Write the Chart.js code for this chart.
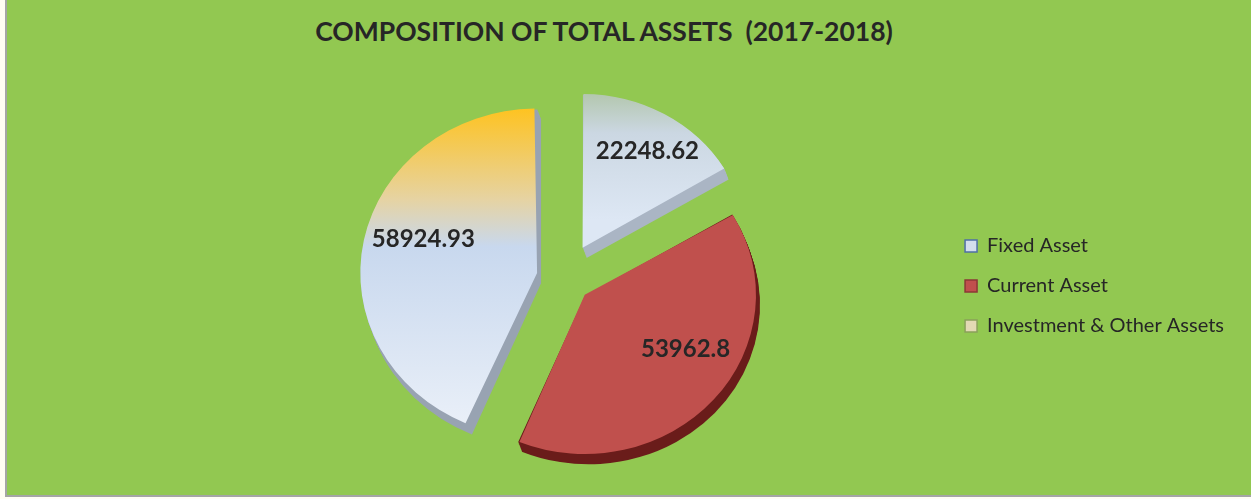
<!DOCTYPE html>
<html>
<head>
<meta charset="utf-8">
<script src="https://cdn.jsdelivr.net/npm/chart.js@4.4.1/dist/chart.umd.min.js"></script>
<style>
  html, body { margin: 0; padding: 0; background: #fffdf4; overflow: hidden; }
  #frame {
    position: absolute; left: 5px; top: -2px; width: 1250px; height: 497px;
    background: #92c851; border-left: 2px solid #a5a5a5; border-bottom: 2px solid #a5a5a5;
  }
  #title {
    position: absolute; left: 0; top: 15px; width: 1208px; text-align: center;
    font: bold 26.5px/32px Lato, sans-serif; color: #262626; white-space: pre;
  }
  #wrap { position: absolute; left: 0; top: 0; width: 1251px; height: 499px; }
</style>
</head>
<body>
<div id="frame"></div>
<div id="title"></div>
<div id="wrap"><canvas id="assetChart"></canvas></div>
<script>
const chartTitle = 'COMPOSITION OF TOTAL ASSETS  (2017-2018)';
const categories = ['Fixed Asset', 'Current Asset', 'Investment & Other Assets'];
const assetValues = [22248.62, 53962.8, 58924.93];

// flat colours for legend swatches and the 3D side walls
const legendFills = ['#d3deec', '#c0504d', '#e3d9b4'];
const legendBorders = ['#4f6fa6', '#8c3836', '#8aa05a'];
const sideColors = ['#aab5c4', '#6a1c1a', '#98a3b2'];

document.getElementById('title').textContent = chartTitle;

// geometry of an arc as Chart.js actually draws it (offset is applied /4)
function arcGeom(arc) {
    const {x, y, startAngle, endAngle, outerRadius} = arc.getProps(['x', 'y', 'startAngle', 'endAngle', 'outerRadius']);
    const off = (arc.options.offset || 0) / 4;
    const mid = (startAngle + endAngle) / 2;
    const fix = 1 - Math.sin(Math.min(Math.PI, endAngle - startAngle));
    return {
        x, y,
        cx: x + Math.cos(mid) * off,
        cy: y + Math.sin(mid) * off,
        r: outerRadius + off * fix,
        startAngle, endAngle, mid
    };
}

// tilts the pie a little and draws the side walls under each slice
const pieDepth = {
    id: 'pieDepth',
    beforeDatasetsDraw(chart, args, opts) {
        const c = chart.ctx;
        const {left, right, top, bottom} = chart.chartArea;
        const mx = (left + right) / 2, my = (top + bottom) / 2;
        c.save();
        c.translate(mx, my);
        c.scale(1, opts.tilt);
        c.translate(-mx, -my);
        chart.getDatasetMeta(0).data.forEach((arc, i) => {
            const p = arcGeom(arc);
            c.fillStyle = opts.colors[i];
            for (let k = 1; k <= opts.depth; k++) {
                const ox = p.cx + opts.dx * k / opts.depth;
                const oy = p.cy + opts.dy * k / opts.depth;
                c.beginPath();
                c.moveTo(ox, oy);
                c.arc(ox, oy, p.r, p.startAngle, p.endAngle);
                c.closePath();
                c.fill();
            }
        });
    },
    afterDatasetsDraw(chart) {
        chart.ctx.restore();
    }
};

const sliceLabels = {
    id: 'sliceLabels',
    afterDatasetsDraw(chart, args, opts) {
        const c = chart.ctx;
        const tilt = chart.options.plugins.pieDepth.tilt;
        c.save();
        c.font = opts.font;
        c.fillStyle = opts.color;
        c.textAlign = 'center';
        c.textBaseline = 'middle';
        chart.getDatasetMeta(0).data.forEach((arc, i) => {
            const p = arcGeom(arc);
            const d = p.r * opts.ratio;
            const [nx, ny] = opts.nudge[i];
            const lx = p.cx + Math.cos(p.mid) * d;
            const ly = p.y + (p.cy + Math.sin(p.mid) * d - p.y) * tilt;
            c.fillText(String(assetValues[i]), lx + nx, ly + ny);
        });
        c.restore();
    }
};

function sliceFill(context) {
    const i = context.dataIndex;
    const {ctx, chartArea} = context.chart;
    if (!chartArea) return legendFills[i];
    const cy = (chartArea.top + chartArea.bottom) / 2;
    let g;
    if (i === 0) {
        g = ctx.createLinearGradient(0, cy - 200, 0, cy - 30);
        g.addColorStop(0, '#a0ba84');
        g.addColorStop(0.45, '#cbd7e2');
        g.addColorStop(1, '#dde7f4');
        return g;
    }
    if (i === 2) {
        g = ctx.createLinearGradient(0, cy - 182, 0, cy + 160);
        g.addColorStop(0, '#ffc21a');
        g.addColorStop(0.3, '#e6d3a2');
        g.addColorStop(0.45, '#c8d8ee');
        g.addColorStop(1, '#e9eff8');
        return g;
    }
    return '#c0504d';
}

new Chart(document.getElementById('assetChart'), {
    type: 'pie',
    data: {
        labels: categories,
        datasets: [{
            data: assetValues,
            backgroundColor: sliceFill,
            borderWidth: 0,
            offset: [150, 110, 110],
            clip: false
        }]
    },
    options: {
        responsive: true,
        maintainAspectRatio: false,
        animation: false,
        events: [],
        radius: 160,
        layout: {
            padding: {left: 183, right: 17, top: 64, bottom: 7}
        },
        plugins: {
            title: {display: false},
            legend: {
                position: 'right',
                title: {display: true, text: '', font: {size: 10}, padding: {top: 2, bottom: 2}},
                labels: {
                    boxWidth: 12,
                    boxHeight: 12,
                    padding: 20,
                    color: '#262626',
                    font: {family: 'Lato', size: 20},
                    generateLabels: () => categories.map((name, i) => ({
                        text: name,
                        fillStyle: legendFills[i],
                        strokeStyle: legendBorders[i],
                        lineWidth: 1.5,
                        fontColor: '#262626',
                        hidden: false,
                        index: i
                    }))
                }
            },
            tooltip: {enabled: false},
            pieDepth: {depth: 11, dx: 4, dy: 11, tilt: 0.93, colors: sideColors},
            sliceLabels: {
                font: 'bold 24px Lato',
                color: '#262626',
                ratio: 0.72,
                nudge: [[6, 0], [8, -21], [11, -10]]
            }
        }
    },
    plugins: [pieDepth, sliceLabels]
});
</script>
</body>
</html>
